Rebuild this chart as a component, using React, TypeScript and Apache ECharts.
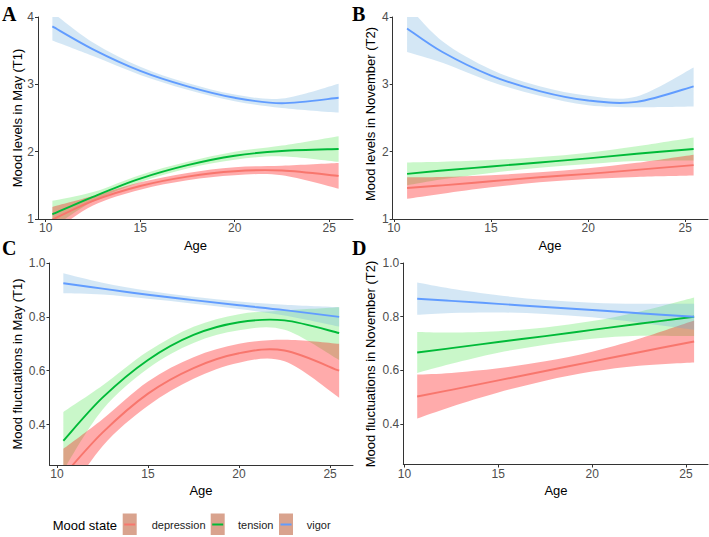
import React, { useEffect, useRef } from "react";
import * as echarts from "echarts";

// ages sampled along the fitted curves
const agesT1 = [10.35, 12.5, 15, 17.5, 20, 22.5, 25.5];
const agesT2 = [10.68, 12.5, 15, 17.5, 20, 22.5, 25.43];

// Panel A: Mood levels in May (T1)
const aDepFit = [0.99, 1.27, 1.49, 1.63, 1.71, 1.72, 1.64];
const aDepLo = [0.8, 1.2, 1.435, 1.575, 1.65, 1.65, 1.45];
const aDepHi = [1.18, 1.34, 1.545, 1.685, 1.77, 1.79, 1.83];
const aTenFit = [1.07, 1.33, 1.6, 1.8, 1.94, 2.01, 2.04];
const aTenLo = [0.87, 1.26, 1.545, 1.75, 1.88, 1.93, 1.85];
const aTenHi = [1.27, 1.4, 1.655, 1.85, 2.0, 2.09, 2.23];
const aVigFit = [3.86, 3.52, 3.2, 2.97, 2.8, 2.72, 2.8];
const aVigLo = [3.65, 3.42, 3.14, 2.92, 2.75, 2.65, 2.58];
const aVigHi = [4.07, 3.62, 3.26, 3.02, 2.85, 2.79, 3.01];

// Panel B: Mood levels in November (T2)
const bDepFit = [1.46, 1.5, 1.56, 1.62, 1.67, 1.73, 1.8];
const bDepLo = [1.3, 1.375, 1.47, 1.545, 1.595, 1.625, 1.645];
const bDepHi = [1.62, 1.625, 1.65, 1.695, 1.755, 1.835, 1.955];
const bTenFit = [1.67, 1.72, 1.78, 1.84, 1.9, 1.97, 2.04];
const bTenLo = [1.5, 1.59, 1.685, 1.76, 1.815, 1.86, 1.87];
const bTenHi = [1.84, 1.85, 1.875, 1.92, 1.985, 2.08, 2.21];
const bVigFit = [3.83, 3.48, 3.13, 2.9, 2.76, 2.74, 2.97];
const bVigLo = [3.48, 3.32, 3.04, 2.83, 2.69, 2.66, 2.67];
const bVigHi = [4.18, 3.64, 3.22, 2.97, 2.83, 2.82, 3.25];

// Panel C: Mood fluctuations in May (T1)
const cDepFit = [0.21, 0.37, 0.515, 0.61, 0.665, 0.675, 0.6];
const cDepLo = [0.11, 0.32, 0.47, 0.57, 0.63, 0.635, 0.5];
const cDepHi = [0.31, 0.42, 0.56, 0.65, 0.7, 0.715, 0.7];
const cTenFit = [0.34, 0.5, 0.64, 0.733, 0.78, 0.787, 0.74];
const cTenLo = [0.23, 0.455, 0.608, 0.703, 0.75, 0.752, 0.64];
const cTenHi = [0.447, 0.545, 0.672, 0.763, 0.81, 0.824, 0.836];
const cVigFit = [0.925, 0.905, 0.882, 0.862, 0.843, 0.825, 0.8];
const cVigLo = [0.888, 0.883, 0.867, 0.849, 0.829, 0.805, 0.764];
const cVigHi = [0.962, 0.927, 0.897, 0.875, 0.857, 0.845, 0.836];

// Panel D: Mood fluctuations in November (T2)
const dDepFit = [0.503, 0.528, 0.563, 0.598, 0.633, 0.668, 0.708];
const dDepLo = [0.421, 0.465, 0.518, 0.562, 0.596, 0.618, 0.63];
const dDepHi = [0.585, 0.591, 0.608, 0.634, 0.67, 0.718, 0.786];
const dTenFit = [0.667, 0.683, 0.706, 0.728, 0.751, 0.774, 0.8];
const dTenLo = [0.591, 0.625, 0.666, 0.696, 0.718, 0.729, 0.728];
const dTenHi = [0.743, 0.741, 0.746, 0.76, 0.784, 0.819, 0.872];
const dVigFit = [0.867, 0.859, 0.848, 0.836, 0.825, 0.813, 0.8];
const dVigLo = [0.807, 0.814, 0.816, 0.81, 0.798, 0.778, 0.752];
const dVigHi = [0.927, 0.904, 0.88, 0.862, 0.852, 0.848, 0.848];

const xTicks = [10, 15, 20, 25];
const levelTicks = [1, 2, 3, 4];
const fluctTicks = [0.4, 0.6, 0.8, 1.0];
const moodNames = ["depression", "tension", "vigor"];

const lineColor: Record<string, string> = {
  depression: "#F8766D",
  tension: "#00BA38",
  vigor: "#619CFF",
};
const bandColor: Record<string, string> = {
  depression: "rgba(255,0,0,0.33)",
  tension: "rgba(0,215,0,0.21)",
  vigor: "rgba(100,170,220,0.28)",
};

const FONT = "'Liberation Sans', Arial, sans-serif";

const panels = [
  {
    letter: "A", ytitle: "Mood levels in May (T1)",
    grid: { left: 38, top: 17, width: 315, height: 202 },
    xMin: 9.59, xMax: 26.26, yMin: 1, yMax: 4, yTicks: levelTicks, dec: 0,
    ages: agesT1,
    d: { depression: [aDepFit, aDepLo, aDepHi], tension: [aTenFit, aTenLo, aTenHi], vigor: [aVigFit, aVigLo, aVigHi] },
    letterPos: [2, 14], ytPos: [17, 118], xtPos: [195.5, 245],
  },
  {
    letter: "B", ytitle: "Mood levels in November (T2)",
    grid: { left: 392.7, top: 17, width: 315.3, height: 202 },
    xMin: 9.94, xMax: 26.17, yMin: 1, yMax: 4, yTicks: levelTicks, dec: 0,
    ages: agesT2,
    d: { depression: [bDepFit, bDepLo, bDepHi], tension: [bTenFit, bTenLo, bTenHi], vigor: [bVigFit, bVigLo, bVigHi] },
    letterPos: [352, 14], ytPos: [370, 114], xtPos: [550, 245],
  },
  {
    letter: "C", ytitle: "Mood fluctuations in May (T1)",
    grid: { left: 49.5, top: 263, width: 303.5, height: 202 },
    xMin: 9.59, xMax: 26.26, yMin: 0.25, yMax: 1.0, yTicks: fluctTicks, dec: 1,
    ages: agesT1,
    d: { depression: [cDepFit, cDepLo, cDepHi], tension: [cTenFit, cTenLo, cTenHi], vigor: [cVigFit, cVigLo, cVigHi] },
    letterPos: [2, 248], ytPos: [17, 364], xtPos: [201, 490],
  },
  {
    letter: "D", ytitle: "Mood fluctuations in November (T2)",
    grid: { left: 403.3, top: 263, width: 304.7, height: 201.5 },
    xMin: 9.94, xMax: 26.17, yMin: 0.25, yMax: 1.0, yTicks: fluctTicks, dec: 1,
    ages: agesT2,
    d: { depression: [dDepFit, dDepLo, dDepHi], tension: [dTenFit, dTenLo, dTenHi], vigor: [dVigFit, dVigLo, dVigHi] },
    letterPos: [352, 248], ytPos: [370.7, 364], xtPos: [556, 490],
  },
];

// Catmull-Rom spline through pixel points, as SVG path commands
function curve(pts: number[][], start: "M" | "L"): string {
  const n = pts.length;
  let s = `${start}${pts[0][0]},${pts[0][1]}`;
  for (let i = 0; i < n - 1; i++) {
    const p0 = pts[Math.max(0, i - 1)];
    const p1 = pts[i];
    const p2 = pts[i + 1];
    const p3 = pts[Math.min(n - 1, i + 2)];
    const c1x = p1[0] + (p2[0] - p0[0]) / 6;
    const c1y = p1[1] + (p2[1] - p0[1]) / 6;
    const c2x = p2[0] - (p3[0] - p1[0]) / 6;
    const c2y = p2[1] - (p3[1] - p1[1]) / 6;
    s += ` C${c1x},${c1y} ${c2x},${c2y} ${p2[0]},${p2[1]}`;
  }
  return s;
}

export default function App() {
  const ref = useRef<HTMLDivElement>(null);
  useEffect(() => {
    if (!ref.current) return;
    const chart = echarts.init(ref.current, null, { renderer: "svg" });

    const grids: any[] = [];
    const xAxes: any[] = [];
    const yAxes: any[] = [];
    const series: any[] = [];
    const graphics: any[] = [];
    const axisLineStyle = { color: "#333", width: 1 };

    panels.forEach((p, gi) => {
      grids.push({ ...p.grid, containLabel: false });
      xAxes.push({
        type: "value", gridIndex: gi, min: p.xMin, max: p.xMax,
        axisLine: { show: true, onZero: false, lineStyle: axisLineStyle },
        axisTick: { show: true, length: 3, customValues: xTicks, lineStyle: axisLineStyle },
        axisLabel: { customValues: xTicks, margin: 3, fontSize: 12, color: "#4D4D4D", fontFamily: FONT },
        splitLine: { show: false },
      });
      yAxes.push({
        type: "value", gridIndex: gi, min: p.yMin, max: p.yMax,
        axisLine: { show: true, onZero: false, lineStyle: axisLineStyle },
        axisTick: { show: true, length: 3, customValues: p.yTicks, lineStyle: axisLineStyle },
        axisLabel: {
          customValues: p.yTicks, margin: 4, fontSize: 12, color: "#4D4D4D", fontFamily: FONT,
          formatter: (v: number) => v.toFixed(p.dec),
        },
        splitLine: { show: false },
      });

      const bandOrder = ["tension", "depression", "vigor"];
      series.push({
        type: "custom", xAxisIndex: gi, yAxisIndex: gi, clip: true, silent: true,
        data: [[p.ages[0], (p.d as any).vigor[0][0]]],
        renderItem: (_params: any, api: any) => {
          const children: any[] = [];
          bandOrder.forEach((m) => {
            const [, lo, hi] = (p.d as any)[m] as number[][];
            const top = p.ages.map((a, i) => api.coord([a, hi[i]]));
            const bot = p.ages.map((a, i) => api.coord([a, lo[i]])).reverse();
            children.push({
              type: "path",
              shape: { pathData: curve(top, "M") + " " + curve(bot, "L") + " Z" },
              style: { fill: bandColor[m], stroke: "none" },
            });
          });
          moodNames.forEach((m) => {
            const [fit] = (p.d as any)[m] as number[][];
            const pts = p.ages.map((a, i) => api.coord([a, fit[i]]));
            children.push({
              type: "path",
              shape: { pathData: curve(pts, "M") },
              style: { fill: "none", stroke: lineColor[m], lineWidth: 1.9 },
            });
          });
          return { type: "group", children };
        },
      });

      graphics.push({
        type: "text", x: p.letterPos[0], y: p.letterPos[1],
        style: { text: p.letter, fontSize: 20, fontWeight: "bold", fontFamily: "'Liberation Serif', 'Times New Roman', serif", fill: "#000", align: "left", verticalAlign: "middle" },
      });
      graphics.push({
        type: "text", x: p.ytPos[0], y: p.ytPos[1], rotation: Math.PI / 2,
        style: { text: p.ytitle, fontSize: 13, fontFamily: FONT, fill: "#000", align: "center", verticalAlign: "middle" },
      });
      graphics.push({
        type: "text", x: p.xtPos[0], y: p.xtPos[1],
        style: { text: "Age", fontSize: 13, fontFamily: FONT, fill: "#000", align: "center", verticalAlign: "middle" },
      });
    });

    // legend
    graphics.push({
      type: "text", x: 52.7, y: 525,
      style: { text: "Mood state", fontSize: 13, fontFamily: FONT, fill: "#000", align: "left", verticalAlign: "middle" },
    });
    const keyX = [122.7, 210.7, 279];
    const labX = [151.7, 238, 306.7];
    moodNames.forEach((m, i) => {
      graphics.push({
        type: "rect", shape: { x: keyX[i], y: 513.5, width: 14, height: 21.5 },
        style: { fill: "#D9A38E" },
      });
      graphics.push({
        type: "line", shape: { x1: keyX[i] + 1.5, y1: 524.5, x2: keyX[i] + 12.5, y2: 524.5 },
        style: { stroke: lineColor[m], lineWidth: 2 },
      });
      graphics.push({
        type: "text", x: labX[i], y: 525,
        style: { text: m, fontSize: 11, fontFamily: FONT, fill: "#222", align: "left", verticalAlign: "middle" },
      });
    });

    chart.setOption({
      animation: false,
      backgroundColor: "#fff",
      grid: grids,
      xAxis: xAxes,
      yAxis: yAxes,
      series,
      graphic: graphics,
    });
    return () => chart.dispose();
  }, []);
  return (
    <div
      ref={ref}
      style={{ position: "fixed", left: 0, top: 0, width: 709, height: 537 }}
    />
  );
}
